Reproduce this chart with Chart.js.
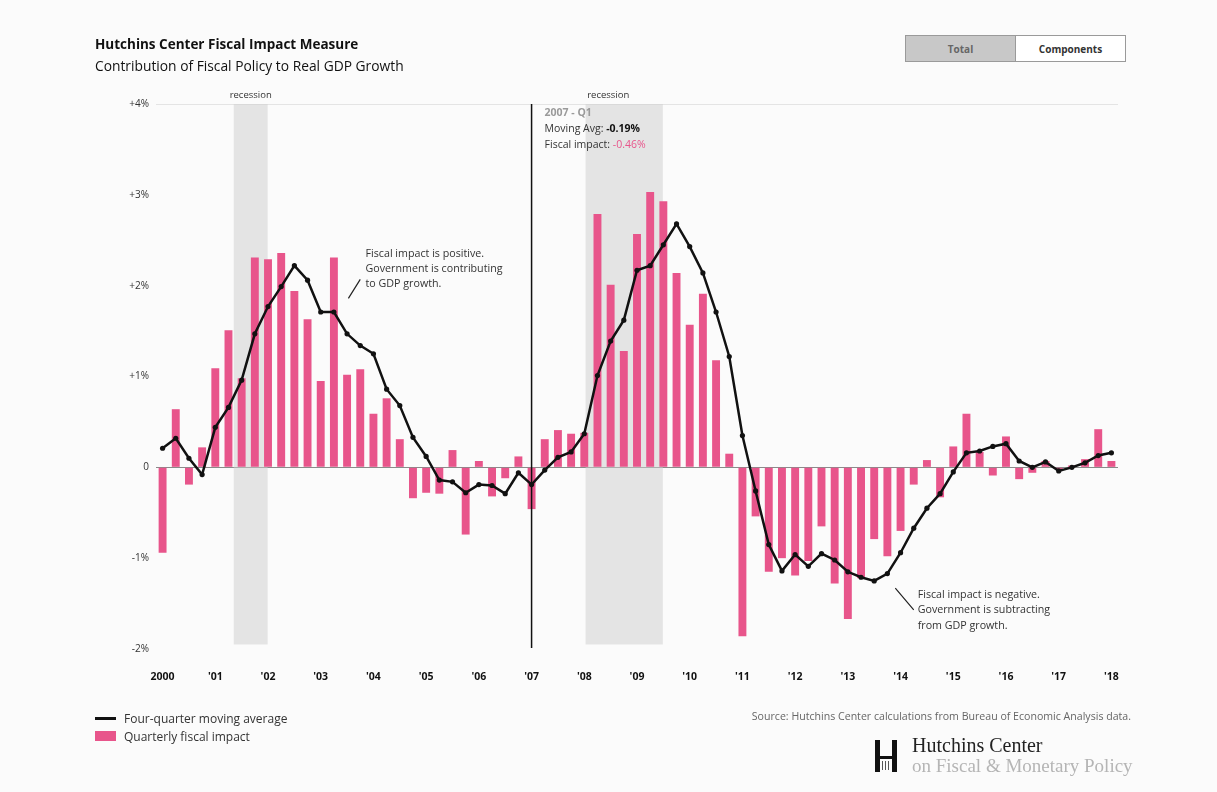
<!DOCTYPE html>
<html>
<head>
<meta charset="utf-8">
<script src="https://cdn.jsdelivr.net/npm/chart.js@4"></script>
<style>
  html, body { margin:0; padding:0; background:#fbfbfb; }
  body { width:1217px; height:792px; position:relative; overflow:hidden; font-family:"Open Sans", "Roboto", sans-serif; color:#222; }
  #wrap { position:absolute; left:0; top:0; width:1217px; height:792px; }
  .title { position:absolute; left:95px; top:35px; font-size:13.5px; font-weight:bold; color:#111; }
  .subtitle { position:absolute; left:95px; top:56px; font-size:13.8px; color:#111; }
  .btns { position:absolute; left:905px; top:35px; width:219px; height:25px; border:1px solid #9a9a9a; display:flex; font-size:10px; font-weight:bold; }
  .btns div { flex:1; display:flex; align-items:center; justify-content:center; }
  .btns .on { background:#c8c8c8; color:#666; border-right:1px solid #9a9a9a; }
  .btns .off { background:#fff; color:#333; }
  .legend { position:absolute; left:95px; top:709px; font-size:12px; color:#333; }
  .legend div { height:18px; display:flex; align-items:center; }
  .sw-line { width:21px; height:3px; background:#111; margin-right:8px; }
  .sw-bar { width:21px; height:10px; background:#e8558b; margin-right:8px; }
  .source { position:absolute; right:86px; top:709px; font-size:10.6px; color:#666; }
  .logo-h { position:absolute; left:875px; top:740px; width:22px; height:32px; }
  .logo-h .l { position:absolute; left:0; top:0; width:5px; height:32px; background:#111; }
  .logo-h .r { position:absolute; right:0; top:0; width:5px; height:32px; background:#111; }
  .logo-h .c { position:absolute; left:5px; top:16px; width:12px; height:3px; background:#111; }
  .logo-h .t { position:absolute; left:7px; top:21px; width:1px; height:9px; background:#555; box-shadow:3px 0 0 #555, 6px 0 0 #555; }
  .logo1 { position:absolute; left:912px; top:734px; font-family:"Liberation Serif", "DejaVu Serif", serif; font-size:20px; color:#222; }
  .logo2 { position:absolute; left:912px; top:755px; font-family:"Liberation Serif", "DejaVu Serif", serif; font-size:19px; color:#b5b5b5; }
</style>
</head>
<body>
<div id="wrap"><canvas id="fiscalChart" width="1217" height="792"></canvas></div>
<div class="title">Hutchins Center Fiscal Impact Measure</div>
<div class="subtitle">Contribution of Fiscal Policy to Real GDP Growth</div>
<div class="btns"><div class="on">Total</div><div class="off">Components</div></div>
<div class="legend">
  <div><span class="sw-line"></span>Four-quarter moving average</div>
  <div><span class="sw-bar"></span>Quarterly fiscal impact</div>
</div>
<div class="source">Source: Hutchins Center calculations from Bureau of Economic Analysis data.</div>
<div class="logo-h"><div class="l"></div><div class="r"></div><div class="c"></div><div class="t"></div></div>
<div class="logo1">Hutchins Center</div>
<div class="logo2">on Fiscal &amp; Monetary Policy</div>

<script>
const years = [2000,2001,2002,2003,2004,2005,2006,2007,2008,2009,2010,2011,2012,2013,2014,2015,2016,2017,2018];

// quarterly fiscal impact, 2000 Q1 .. 2018 Q1
const fiscalImpact = [
  -0.94, 0.64, -0.19, 0.22,
   1.09, 1.51, 0.98, 2.31,
   2.29, 2.36, 1.94, 1.63,
   0.95, 2.31, 1.02, 1.08,
   0.59, 0.76, 0.31, -0.34,
  -0.28, -0.29, 0.19, -0.74,
   0.07, -0.32, -0.12, 0.12,
  -0.46, 0.31, 0.41, 0.37,
   0.38, 2.79, 2.01, 1.28,
   2.57, 3.03, 2.93, 2.14,
   1.57, 1.91, 1.18, 0.15,
  -1.86, -0.54, -1.15, -1.00,
  -1.19, -1.03, -0.65, -1.28,
  -1.67, -1.22, -0.79, -0.98,
  -0.70, -0.19, 0.08, -0.33,
   0.23, 0.59, 0.17, -0.09,
   0.34, -0.13, -0.06, 0.07,
  -0.02, 0.02, 0.09, 0.42,
   0.07
];

// four-quarter moving average
const movingAvg = [
   0.21, 0.32, 0.10, -0.08,
   0.44, 0.66, 0.96, 1.47,
   1.77, 1.99, 2.22, 2.06,
   1.71, 1.71, 1.47, 1.34,
   1.25, 0.86, 0.68, 0.33,
   0.12, -0.14, -0.16, -0.28,
  -0.19, -0.20, -0.29, -0.06,
  -0.19, -0.03, 0.11, 0.17,
   0.37, 1.01, 1.39, 1.62,
   2.17, 2.22, 2.45, 2.68,
   2.43, 2.14, 1.71, 1.22,
   0.35, -0.26, -0.85, -1.14,
  -0.96, -1.09, -0.95, -1.02,
  -1.15, -1.21, -1.25, -1.17,
  -0.94, -0.67, -0.45, -0.29,
  -0.05, 0.16, 0.18, 0.23,
   0.26, 0.07, 0.00, 0.06,
  -0.04, 0.00, 0.05, 0.13,
   0.16
];

// recession spans as quarter indexes (start, end)
const recessions = [[5.4, 7.97], [32.1, 37.96]];
const hoverIndex = 28;

const quarters = [];
years.forEach(y => { for (let q = 1; q <= 4; q++) quarters.push(y + " - Q" + q); });
quarters.length = fiscalImpact.length;

const PINK = "#e8558b";
const FONT = "'Open Sans', Roboto, sans-serif";

const backdrop = {
  id: "backdrop",
  beforeDatasetsDraw(chart) {
    const { ctx, scales: { x, y } } = chart;
    ctx.save();
    recessions.forEach(([a, b]) => {
      const x0 = x.getPixelForValue(a), x1 = x.getPixelForValue(b);
      const y0 = y.getPixelForValue(4), y1 = y.getPixelForValue(-1.95);
      ctx.fillStyle = "rgba(205,205,205,0.5)";
      ctx.fillRect(x0, y0, x1 - x0, y1 - y0);
      ctx.fillStyle = "#333";
      ctx.font = "9.5px " + FONT;
      ctx.textAlign = "center";
      ctx.textBaseline = "middle";
      ctx.fillText("recession", (x0 + x1) / 2 - (a > 30 ? 16 : 0), y0 - 9);
    });
    ctx.restore();
  },
  afterDatasetsDraw(chart) {
    const { ctx, scales: { x, y } } = chart;
    ctx.save();
    // hover crosshair + readout
    const hx = x.getPixelForValue(hoverIndex);
    ctx.strokeStyle = "#111";
    ctx.lineWidth = 1.5;
    ctx.beginPath();
    ctx.moveTo(hx, y.getPixelForValue(4));
    ctx.lineTo(hx, y.getPixelForValue(-1.99));
    ctx.stroke();

    const tx = hx + 13, ty = y.getPixelForValue(4) + 9;
    ctx.textAlign = "left";
    ctx.textBaseline = "middle";
    ctx.font = "bold 10.5px " + FONT;
    ctx.fillStyle = "#9a9a9a";
    ctx.fillText(quarters[hoverIndex], tx, ty);
    ctx.font = "10.5px " + FONT;
    ctx.fillStyle = "#333";
    ctx.fillText("Moving Avg: ", tx, ty + 16);
    let w = ctx.measureText("Moving Avg: ").width;
    ctx.font = "bold 10.5px " + FONT;
    ctx.fillStyle = "#111";
    ctx.fillText(movingAvg[hoverIndex].toFixed(2) + "%", tx + w, ty + 16);
    ctx.font = "10.5px " + FONT;
    ctx.fillStyle = "#333";
    ctx.fillText("Fiscal impact: ", tx, ty + 32);
    w = ctx.measureText("Fiscal impact: ").width;
    ctx.fillStyle = PINK;
    ctx.fillText(fiscalImpact[hoverIndex].toFixed(2) + "%", tx + w, ty + 32);

    // annotations
    ctx.strokeStyle = "#222";
    ctx.lineWidth = 1.2;
    ctx.beginPath();
    ctx.moveTo(x.getPixelForValue(14.1), y.getPixelForValue(1.86));
    ctx.lineTo(x.getPixelForValue(15.0), y.getPixelForValue(2.07));
    ctx.moveTo(x.getPixelForValue(55.6), y.getPixelForValue(-1.33));
    ctx.lineTo(x.getPixelForValue(57.0), y.getPixelForValue(-1.57));
    ctx.stroke();
    ctx.font = "10.7px " + FONT;
    ctx.fillStyle = "#333";
    const p = ["Fiscal impact is positive.", "Government is contributing", "to GDP growth."];
    const px = x.getPixelForValue(15.4), py = y.getPixelForValue(2.35);
    p.forEach((s, i) => ctx.fillText(s, px, py + i * 15));
    const n = ["Fiscal impact is negative.", "Government is subtracting", "from GDP growth."];
    const nx = x.getPixelForValue(57.3), ny = y.getPixelForValue(-1.40);
    n.forEach((s, i) => ctx.fillText(s, nx, ny + i * 15.5));
    ctx.restore();
  }
};

new Chart(document.getElementById("fiscalChart"), {
  data: {
    labels: quarters,
    datasets: [
      { type: "line", label: "Four-quarter moving average", data: movingAvg, order: 0,
        borderColor: "#111", backgroundColor: "#111", borderWidth: 2.5,
        pointRadius: 2.6, pointBackgroundColor: "#111", pointBorderWidth: 0, tension: 0 },
      { type: "bar", label: "Quarterly fiscal impact", data: fiscalImpact, order: 1,
        backgroundColor: PINK, barPercentage: 0.6, categoryPercentage: 1 }
    ]
  },
  options: {
    responsive: false,
    animation: false,
    events: [],
    layout: { padding: { left: 100, right: 99, top: 104, bottom: 103 } },
    plugins: { legend: { display: false }, tooltip: { enabled: false } },
    scales: {
      x: {
        type: "category",
        offset: true,
        grid: { display: false, drawTicks: false },
        border: { display: false },
        afterFit: s => { s.height = 40; },
        ticks: {
          autoSkip: false, maxRotation: 0, padding: 22,
          color: "#111", font: { size: 10.5, weight: "bold", family: "'Open Sans'" },
          callback: (v, i) => {
            if (i % 4) return "";
            const yr = years[i / 4];
            return yr === 2000 ? "2000" : "'" + String(yr).slice(2);
          }
        }
      },
      y: {
        min: -2, max: 4,
        afterFit: s => { s.width = 56; },
        border: { display: false },
        grid: {
          drawTicks: false,
          color: c => c.tick.value === 0 ? "#8a8a8a" : (c.tick.value === 4 ? "#e4e4e4" : "rgba(0,0,0,0)"),
          lineWidth: 1
        },
        ticks: {
          stepSize: 1, padding: 7, color: "#333",
          font: { size: 10, family: "'Open Sans'" },
          callback: v => v === 0 ? "0" : (v > 0 ? "+" : "") + v + "%"
        }
      }
    }
  },
  plugins: [backdrop]
});
</script>
</body>
</html>
